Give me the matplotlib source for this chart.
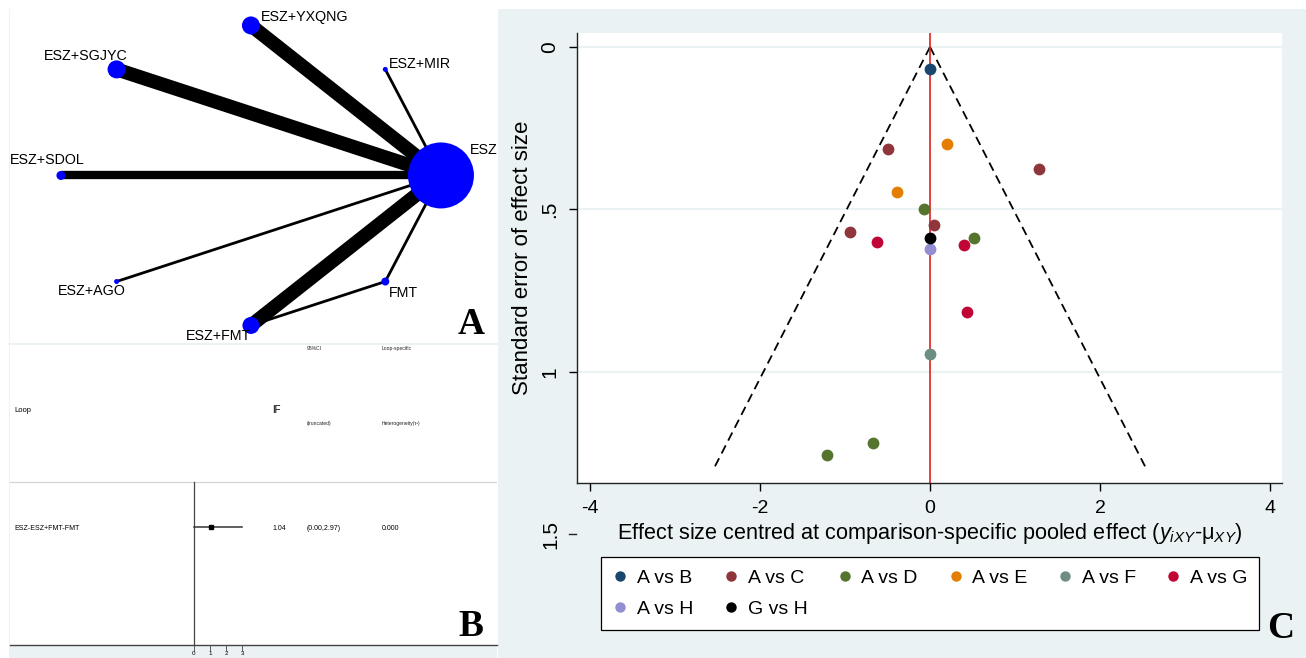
import numpy as np
import matplotlib.pyplot as plt
import matplotlib.transforms as mtransforms
from matplotlib.patches import Rectangle
from matplotlib.lines import Line2D

plt.rcParams['font.family'] = ['Liberation Sans', 'DejaVu Sans']
plt.rcParams['mathtext.fontset'] = 'custom'
plt.rcParams['mathtext.rm'] = 'Liberation Sans'
plt.rcParams['mathtext.it'] = 'Liberation Sans:italic'
plt.rcParams['axes.unicode_minus'] = False

# ---- panel A: network of treatments ----
nodes = ['ESZ', 'ESZ+MIR', 'ESZ+YXQNG', 'ESZ+SGJYC', 'ESZ+SDOL', 'ESZ+AGO', 'ESZ+FMT', 'FMT']
node_size = [33, 2.5, 9, 9, 4.5, 2.5, 8.5, 4]          # node radius
edge_from = ['ESZ', 'ESZ', 'ESZ', 'ESZ', 'ESZ', 'ESZ', 'ESZ', 'ESZ+FMT']
edge_to = ['ESZ+YXQNG', 'ESZ+SGJYC', 'ESZ+SDOL', 'ESZ+MIR', 'ESZ+AGO', 'ESZ+FMT', 'FMT', 'FMT']
edge_n = [5, 5, 3, 1, 1, 5, 1, 1]

# ---- panel B: inconsistency loop ----
loop_name = 'ESZ-ESZ+FMT-FMT'
loop_if = 1.04
loop_lo = 0.00
loop_hi = 2.97
loop_tau2 = 0.000

# ---- panel C: comparison-adjusted funnel plot ----
comparisons = ['A vs B', 'A vs C', 'A vs D', 'A vs E', 'A vs F', 'A vs G', 'A vs H', 'G vs H']
effect = [
    [0.0],
    [-0.50, 1.28, 0.05, -0.94],
    [-0.065, 0.515, -0.665, -1.215],
    [0.195, -0.387],
    [0.0],
    [-0.622, 0.405, 0.435],
    [0.0],
    [0.0],
]
se = [
    [0.069],
    [0.313, 0.375, 0.547, 0.571],
    [0.499, 0.589, 1.218, 1.256],
    [0.299, 0.447],
    [0.946],
    [0.599, 0.609, 0.816],
    [0.621],
    [0.589],
]
se_max = 1.30
colors = ['#1a476f', '#90353b', '#55752f', '#e37e00', '#6e8e84', '#c10534', '#938dd2', '#000000']

W, H = 1306, 658
BG = '#eaf2f3'


def fx(px):
    return px / W


def fy(py):
    return 1 - py / H


def box(x0, y0, x1, y1):
    return [fx(x0), fy(y1), (x1 - x0) / W, (y1 - y0) / H]


fig = plt.figure(figsize=(W / 100, H / 100), dpi=100)
fig.patch.set_facecolor('white')

# backgrounds (kept below the axes)
fig.patches.append(Rectangle((fx(498), 0), 1 - fx(498), fy(9), transform=fig.transFigure,
                             facecolor=BG, edgecolor='none', zorder=-5))
fig.patches.append(Rectangle((fx(9), 0), fx(497) - fx(9), fy(645), transform=fig.transFigure,
                             facecolor=BG, edgecolor='none', zorder=-5))
fig.add_artist(Line2D([fx(9), fx(497)], [fy(343.5), fy(343.5)], color=BG, lw=1.5, zorder=-4))
fig.add_artist(Line2D([fx(9), fx(9)], [fy(9), fy(645)], color='#f2f2f2', lw=0.8, zorder=-4))

# ---------------- panel A ----------------
ax_a = fig.add_axes(box(10, 10, 497, 343))
ax_a.set_xlim(-1.268, 1.295)
ax_a.set_ylim(-1.117, 1.103)
ax_a.axis('off')

theta = np.deg2rad(np.arange(len(nodes)) * 360 / len(nodes))
pos = {n: (np.cos(t), np.sin(t)) for n, t in zip(nodes, theta)}

for a, b, n in zip(edge_from, edge_to, edge_n):
    ax_a.plot([pos[a][0], pos[b][0]], [pos[a][1], pos[b][1]], color='black',
              lw=2.0 * n, solid_capstyle='butt', zorder=1)

nx = [pos[n][0] for n in nodes]
ny = [pos[n][1] for n in nodes]
ax_a.scatter(nx, ny, s=[(2 * r * 0.72) ** 2 for r in node_size], color='#0000ff',
             linewidths=0, zorder=3)

label_off = {
    'ESZ': (29, 25, 'left'), 'ESZ+MIR': (4, 5, 'left'), 'ESZ+YXQNG': (10, 8, 'left'),
    'ESZ+SGJYC': (-31, 13, 'center'), 'ESZ+SDOL': (-14, 15, 'center'),
    'ESZ+AGO': (-25, -9, 'center'), 'ESZ+FMT': (-32, -11, 'center'), 'FMT': (4, -11, 'left'),
}
for n in nodes:
    dx, dy, ha = label_off[n]
    ax_a.annotate(n, pos[n], xytext=(dx, dy), textcoords='offset pixels',
                  ha=ha, va='center', fontsize=10.3, zorder=4, annotation_clip=False)

fig.text(fx(471), fy(324), 'A', fontsize=27, fontweight='bold', family='Liberation Serif',
         ha='center', va='center')

# ---------------- panel B ----------------
ax_b = fig.add_axes(box(10, 345, 497, 645))
ax_b.set_xlim(-11.34, 18.72)
ax_b.set_ylim(0, 300)
for s in ['top', 'right', 'left']:
    ax_b.spines[s].set_visible(False)
ax_b.spines['bottom'].set_color('#444444')
ax_b.spines['bottom'].set_linewidth(1.0)
ax_b.set_yticks([])
ax_b.set_xticks([0, 1, 2, 3])
ax_b.tick_params(axis='x', direction='out', length=4, width=0.6, labelsize=4.5, pad=0.5,
                 color='#444444')
row_rule = 645 - 482
row_y = 645 - 527
ax_b.axhline(row_rule, color='#d4d4d4', lw=0.9)
ax_b.plot([0, 0], [0, row_rule], color='#444444', lw=0.9)
ax_b.plot([loop_lo, loop_hi], [row_y, row_y], color='#333333', lw=1.1)
ax_b.plot([loop_if], [row_y], marker='s', color='black', markersize=2.6)

small = dict(fontsize=3.6, va='center', ha='left', color='#222222')
fig.text(fx(307), fy(349), '95%CI', **small)
fig.text(fx(382), fy(349), 'Loop-specific', **small)
fig.text(fx(307), fy(424), '(truncated)', **small)
fig.text(fx(382), fy(424), 'Heterogeneity(τ²)', **small)
fig.text(fx(14), fy(410), 'Loop', fontsize=5.5, va='center', ha='left')
fig.text(fx(272), fy(410), 'IF', fontsize=7, va='center', ha='left')
mid = dict(fontsize=5, va='center', ha='left')
fig.text(fx(14), fy(529), loop_name, **mid)
fig.text(fx(272), fy(529), f'{loop_if:.2f}', **mid)
fig.text(fx(307), fy(529), f'({loop_lo:.2f},{loop_hi:.2f})', **mid)
fig.text(fx(382), fy(529), f'{loop_tau2:.3f}', **mid)

fig.text(fx(471), fy(626), 'B', fontsize=27, fontweight='bold', family='Liberation Serif',
         ha='center', va='center')

# ---------------- panel C ----------------
ax_c = fig.add_axes(box(577, 33, 1282, 483))
ax_c.set_facecolor('white')
ax_c.set_xlim(-4.153, 4.141)
ax_c.set_ylim(1.342, -0.043)
ax_c.spines['top'].set_visible(False)
ax_c.spines['right'].set_visible(False)
for s in ['left', 'bottom']:
    ax_c.spines[s].set_color('#222222')
    ax_c.spines[s].set_linewidth(1.0)

for yv in [0, 0.5, 1]:
    ax_c.axhline(yv, color=BG, lw=1.6, zorder=0)

se_line = np.array([0, se_max])
ax_c.plot(-1.96 * se_line, se_line, color='black', lw=1.3, ls=(0, (5, 3)), zorder=1)
ax_c.plot(1.96 * se_line, se_line, color='black', lw=1.3, ls=(0, (5, 3)), zorder=1)
ax_c.axvline(0, color='#e0201c', lw=1.2, zorder=2)

handles = []
for lab, xs, ys, c in zip(comparisons, effect, se, colors):
    ax_c.plot(xs, ys, 'o', color=c, markersize=8.5, markeredgewidth=0, zorder=3)
    handles.append(Line2D([], [], marker='o', ls='none', color=c, markersize=7.5,
                          markeredgewidth=0, label=lab))

ax_c.set_xticks([-4, -2, 0, 2, 4])
ax_c.set_xticklabels(['-4', '-2', '0', '2', '4'])
ax_c.set_yticks([0, 0.5, 1])
ax_c.set_yticklabels(['0', '.5', '1'], rotation=90, va='center')
ax_c.tick_params(axis='x', direction='out', length=6, width=1, labelsize=14, pad=6)
ax_c.tick_params(axis='y', direction='out', length=6, width=1, labelsize=15, pad=7)

# Stata keeps the 1.5 label below the plot region
ytrans = mtransforms.blended_transform_factory(fig.transFigure, ax_c.transData)
ax_c.text(fx(551), 1.5, '1.5', transform=ytrans, rotation=90, fontsize=15,
          ha='center', va='center', clip_on=False)
ax_c.plot([-8 / 705, 0.0 - 1.5 / 705], [1.5, 1.5], transform=ax_c.get_yaxis_transform(),
          color='#222222', lw=1, clip_on=False)

ax_c.set_xlabel(r'Effect size centred at comparison-specific pooled effect ($y_{iXY}$-μ$_{XY}$)',
                fontsize=15.6, labelpad=3)
ax_c.set_ylabel('Standard error of effect size', fontsize=16, labelpad=5)

order = [0, 6, 1, 7, 2, 3, 4, 5]
leg = fig.legend([handles[i] for i in order], [comparisons[i] for i in order],
                 loc='center', ncol=6, mode='expand',
                 bbox_to_anchor=(fx(601), fy(631), (1259 - 601) / W, (631 - 556) / H),
                 fontsize=14, frameon=True, fancybox=False, edgecolor='black',
                 facecolor='white', framealpha=1,
                 borderpad=0.6, borderaxespad=0, labelspacing=0.7,
                 handlelength=0.8, handletextpad=0.45, columnspacing=1.0)
leg.get_frame().set_linewidth(0.9)

fig.text(fx(1281), fy(628), 'C', fontsize=27, fontweight='bold', family='Liberation Serif',
         ha='center', va='center')

fig.savefig('out.png', dpi=100)
